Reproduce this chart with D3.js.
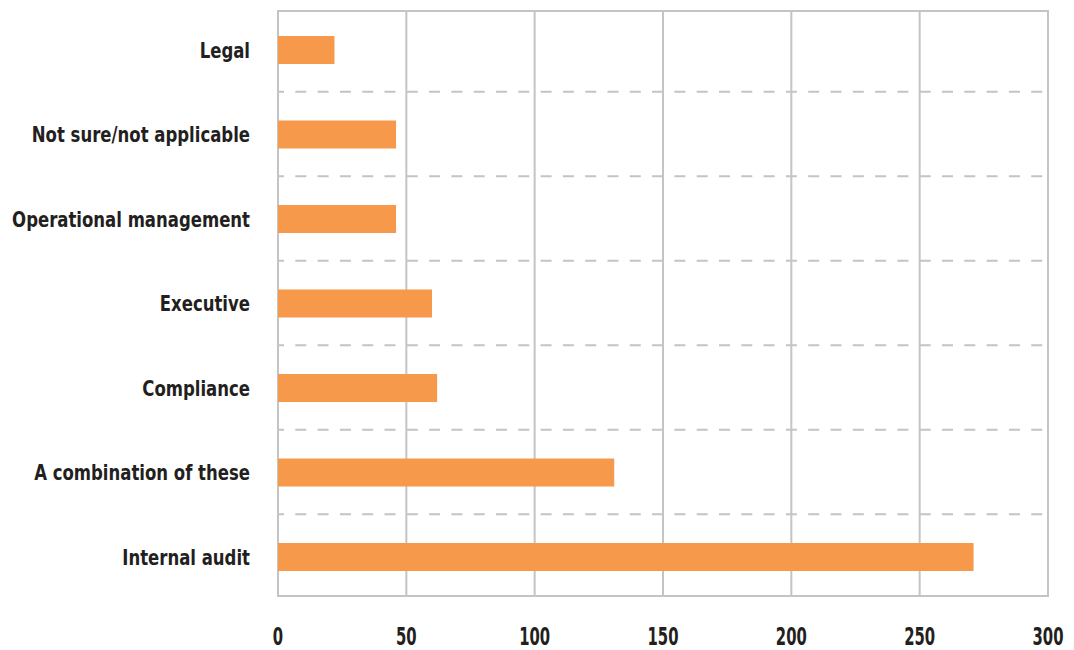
<!DOCTYPE html>
<html>
<head>
<meta charset="utf-8">
<script src="https://cdn.jsdelivr.net/npm/d3@7"></script>
<style>
  html, body { margin: 0; padding: 0; background: #ffffff; }
  svg { display: block; }
  .lbl { font-family: "DejaVu Sans Condensed", "DejaVu Sans", sans-serif; font-weight: bold; fill: #231f20; }
</style>
</head>
<body>
<svg id="chart" width="1074" height="650"></svg>
<script>
const categories = ["Legal", "Not sure/not applicable", "Operational management", "Executive", "Compliance", "A combination of these", "Internal audit"];
const values = [22, 46, 46, 60, 62, 131, 271];
const xTicks = [0, 50, 100, 150, 200, 250, 300];

const svg = d3.select("#chart");
const pLeft = 278, pRight = 1048, pTop = 11, pBottom = 596;

const x = d3.scaleLinear().domain([0, 300]).range([pLeft, pRight]);
const pad = 1 - 28 / 84.5;
const y = d3.scaleBand().domain(categories).range([7.75, 599.25]).paddingInner(pad).paddingOuter(pad / 2);
const step = y.step();

const grid = "#c4c4c4";

// measure helper for condensed look
function measure(str, size) {
  const t = svg.append("text").attr("class", "lbl").attr("font-size", size).text(str);
  const w = t.node().getComputedTextLength();
  t.remove();
  return w;
}
const labelSize = 21.5, tickSize = 25.5;
const sxLabel = 238 / measure("Operational management", labelSize);
const sxTick = 31 / measure("300", tickSize);

// vertical grid lines
svg.append("g").selectAll("line").data(xTicks).join("line")
  .attr("x1", d => x(d)).attr("x2", d => x(d))
  .attr("y1", pTop).attr("y2", pBottom)
  .attr("stroke", grid).attr("stroke-width", 2);

// dashed separators
svg.append("g").selectAll("line").data(categories.slice(1)).join("line")
  .attr("x1", pLeft).attr("x2", pRight)
  .attr("y1", d => y(d) + y.bandwidth() / 2 - step / 2 - 0.5)
  .attr("y2", d => y(d) + y.bandwidth() / 2 - step / 2 - 0.5)
  .attr("stroke", "#c4c4c4").attr("stroke-width", 2)
  .attr("stroke-dasharray", "11,11.3").attr("stroke-dashoffset", 5);

// frame top/bottom
svg.append("line").attr("x1", pLeft - 1).attr("x2", pRight + 1).attr("y1", pTop).attr("y2", pTop)
  .attr("stroke", grid).attr("stroke-width", 2);
svg.append("line").attr("x1", pLeft - 1).attr("x2", pRight + 1).attr("y1", pBottom).attr("y2", pBottom)
  .attr("stroke", grid).attr("stroke-width", 2);

// bars
svg.append("g").selectAll("rect").data(categories).join("rect")
  .attr("x", x(0))
  .attr("y", d => y(d))
  .attr("width", (d, i) => x(values[i]) - x(0))
  .attr("height", y.bandwidth())
  .attr("fill", "#f7994a");

// category labels
svg.append("g").selectAll("text").data(categories).join("text")
  .attr("class", "lbl")
  .attr("transform", d => `translate(250,${y(d) + y.bandwidth() / 2 + 7.8}) scale(${sxLabel},1)`)
  .attr("text-anchor", "end")
  .attr("font-size", labelSize)
  .text(d => d);

// x tick labels
svg.append("g").selectAll("text").data(xTicks).join("text")
  .attr("class", "lbl")
  .attr("transform", d => `translate(${x(d)},645) scale(${sxTick},1)`)
  .attr("text-anchor", "middle")
  .attr("font-size", tickSize)
  .text(d => d);
</script>
</body>
</html>
